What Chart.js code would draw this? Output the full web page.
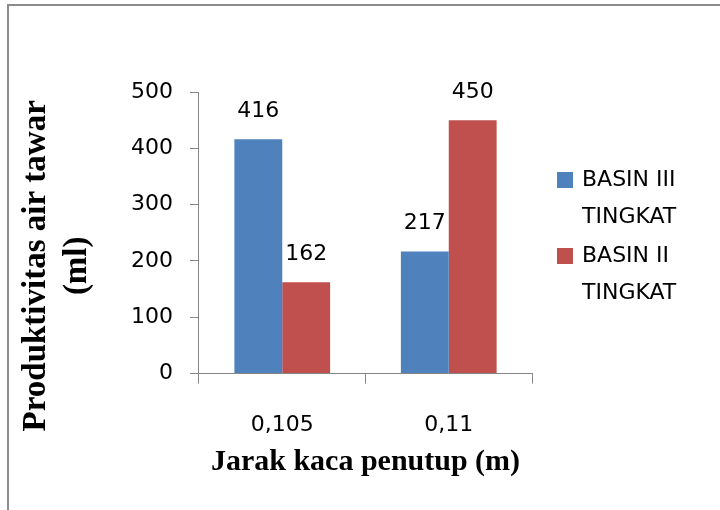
<!DOCTYPE html>
<html>
<head>
<meta charset="utf-8">
<script src="https://cdn.jsdelivr.net/npm/chart.js@4.4.0/dist/chart.umd.min.js"></script>
<style>
  html, body { margin: 0; padding: 0; background: #fff; }
  #frame { position: absolute; left: 7px; top: 4px; width: 800px; height: 600px; border: 2px solid #8c8c8c; }
  #wrap { position: absolute; left: 0; top: 0; width: 720px; height: 510px; }
</style>
</head>
<body>
<div id="frame"></div>
<div id="wrap"><canvas id="myChart" width="720" height="510"></canvas></div>
<script>
const categories = ['0,105', '0,11'];
const seriesNames = [['BASIN III', 'TINGKAT'], ['BASIN II', 'TINGKAT']];
const basin3 = [416, 217];
const basin2 = [162, 450];
const colors = ['#4F81BD', '#C0504D'];
const yTicks = [0, 100, 200, 300, 400, 500];
const yTitle = ['Produktivitas air tawar', '(ml)'];

const tickFont = { family: 'DejaVu Sans', size: 22 };

// angka di atas batang
const valueLabels = {
  id: 'valueLabels',
  afterDatasetsDraw(chart) {
    const ctx = chart.ctx;
    ctx.save();
    ctx.font = '22px DejaVu Sans';
    ctx.fillStyle = '#000';
    ctx.textAlign = 'center';
    ctx.textBaseline = 'alphabetic';
    chart.data.datasets.forEach((ds, i) => {
      chart.getDatasetMeta(i).data.forEach((bar, j) => {
        ctx.fillText(String(ds.data[j]), bar.x, bar.y - 22);
      });
    });
    ctx.restore();
  }
};

// judul sumbu y (dua baris, agak turun seperti aslinya)
const yAxisTitle = {
  id: 'yAxisTitle',
  afterDraw(chart) {
    const ctx = chart.ctx;
    const area = chart.chartArea;
    const cy = (area.top + area.bottom) / 2 + 33;
    ctx.save();
    ctx.font = 'bold 33px Liberation Serif';
    ctx.fillStyle = '#000';
    ctx.textAlign = 'center';
    ctx.textBaseline = 'middle';
    yTitle.forEach((line, k) => {
      ctx.save();
      ctx.translate(area.left - 163 + k * 41, cy);
      ctx.rotate(-Math.PI / 2);
      ctx.fillText(line, 0, 0);
      ctx.restore();
    });
    ctx.restore();
  }
};

// legenda dua baris di kanan
const sideLegend = {
  id: 'sideLegend',
  afterDraw(chart) {
    const ctx = chart.ctx;
    const area = chart.chartArea;
    const x = area.right + 25;
    let y = 180;
    ctx.save();
    ctx.font = '22px DejaVu Sans';
    ctx.textBaseline = 'middle';
    chart.data.datasets.forEach((ds, i) => {
      ctx.fillStyle = ds.backgroundColor;
      ctx.fillRect(x, y - 8, 16, 16);
      ctx.fillStyle = '#000';
      seriesNames[i].forEach((line, k) => {
        ctx.fillText(line, x + 25, y + k * 37);
      });
      y += 76;
    });
    ctx.restore();
  }
};

const ctx = document.getElementById('myChart').getContext('2d');

const myChart = new Chart(ctx, {
  type: 'bar',
  data: {
    labels: categories,
    datasets: [
      { label: seriesNames[0].join(' '), data: basin3, backgroundColor: colors[0], categoryPercentage: 0.575, barPercentage: 1 },
      { label: seriesNames[1].join(' '), data: basin2, backgroundColor: colors[1], categoryPercentage: 0.575, barPercentage: 1 }
    ]
  },
  options: {
    responsive: false,
    animation: false,
    layout: { padding: { left: 114, top: 92, right: 188, bottom: 30 } },
    plugins: {
      legend: { display: false },
      tooltip: { enabled: false }
    },
    scales: {
      x: {
        grid: { offset: true, drawOnChartArea: false, drawTicks: true, tickLength: 10, color: '#868686' },
        border: { color: '#868686' },
        ticks: { font: tickFont, color: '#000', padding: 28 },
        title: { display: true, text: 'Jarak kaca penutup (m)', font: { family: 'Liberation Serif', weight: 'bold', size: 30 }, color: '#000', padding: { top: -22, bottom: 0 } }
      },
      y: {
        min: 0,
        max: 500,
        afterBuildTicks: (axis) => { axis.ticks = yTicks.map(v => ({ value: v })); },
        grid: { drawOnChartArea: false, drawTicks: true, tickLength: 9, color: '#868686' },
        border: { color: '#868686' },
        ticks: { font: tickFont, color: '#000', padding: 17 }
      }
    }
  },
  plugins: [valueLabels, yAxisTitle, sideLegend]
});
</script>
</body>
</html>
